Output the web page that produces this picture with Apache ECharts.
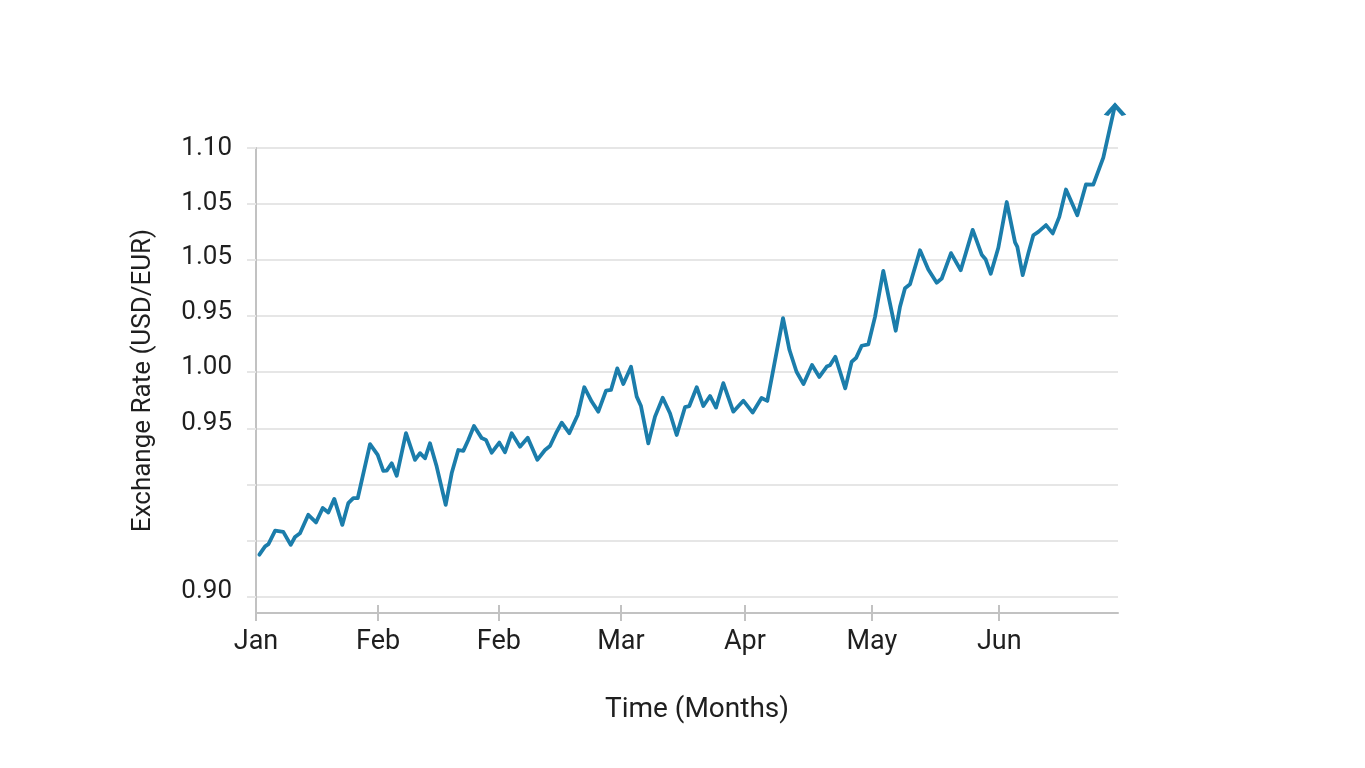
<!DOCTYPE html>
<html>
<head>
<meta charset="utf-8">
<title>Exchange Rate (USD/EUR)</title>
<script src="https://cdn.jsdelivr.net/npm/echarts@6/dist/echarts.min.js"></script>
<style>
  html, body { margin: 0; padding: 0; background: #ffffff; }
  #chart { width: 1365px; height: 768px; }
</style>
</head>
<body>
<div id="chart"></div>
<script>
// Day offsets (0 = start of Jan) and the rate read at each turn of the line
const days = [
  0.7, 1.9, 2.6, 4.0, 5.7, 7.25, 8.14, 9.19, 10.92, 12.53,
  13.93, 15.10, 16.35, 18.02, 19.27, 20.32, 21.24, 23.81, 25.41, 26.58,
  27.29, 28.34, 29.38, 31.32, 33.20, 34.25, 35.29, 36.33, 37.73, 39.61,
  40.87, 42.24, 43.29, 44.33, 45.52, 47.13, 48.03, 49.22, 50.81, 52.00,
  53.39, 55.13, 56.74, 58.74, 60.35, 61.39, 62.65, 63.84, 65.42, 67.18,
  68.55, 70.10, 71.48, 73.09, 74.13, 75.45, 76.70, 78.31, 79.50, 80.39,
  81.92, 83.32, 84.93, 86.45, 87.85, 89.58, 90.48, 92.03, 93.41, 94.81,
  96.06, 97.58, 99.67, 101.76, 103.72, 105.56, 106.77, 107.96, 110.05, 111.40,
  112.87, 114.33, 116.11, 117.63, 119.18, 119.86, 120.98, 123.04, 124.39, 125.29,
  126.48, 127.86, 129.26, 130.99, 132.24, 133.58, 134.48, 135.52, 136.57, 138.66,
  140.39, 142.14, 143.19, 145.13, 147.16, 149.66, 151.54, 152.34, 153.43, 155.01,
  156.77, 158.50, 158.98, 160.10, 161.27, 162.32, 163.36, 164.97, 166.37, 167.74,
  169.14, 171.50, 173.32, 174.84, 176.93, 179.37
];
const rates = [
  0.9186, 0.9223, 0.9233, 0.9293, 0.9288, 0.9230, 0.9265, 0.9282, 0.9364, 0.9330,
  0.9394, 0.9374, 0.9435, 0.9319, 0.9416, 0.9438, 0.9438, 0.9679, 0.9631, 0.9560,
  0.9561, 0.9594, 0.9538, 0.9728, 0.9609, 0.9639, 0.9616, 0.9683, 0.9579, 0.9408,
  0.9550, 0.9653, 0.9649, 0.9698, 0.9760, 0.9706, 0.9698, 0.9641, 0.9686, 0.9643,
  0.9728, 0.9668, 0.9708, 0.9609, 0.9653, 0.9671, 0.9728, 0.9775, 0.9728, 0.9809,
  0.9933, 0.9869, 0.9824, 0.9918, 0.9921, 1.0017, 0.9947, 1.0024, 0.9891, 0.9849,
  0.9683, 0.9802, 0.9886, 0.9817, 0.9720, 0.9844, 0.9849, 0.9933, 0.9849, 0.9894,
  0.9842, 0.9951, 0.9824, 0.9873, 0.9820, 0.9885, 0.9872, 1.0005, 1.0241, 1.0099,
  1.0002, 0.9947, 1.0032, 0.9979, 1.0025, 1.0031, 1.0069, 0.9928, 1.0047, 1.0063,
  1.0118, 1.0124, 1.0247, 1.0452, 1.0322, 1.0185, 1.0292, 1.0374, 1.0392, 1.0544,
  1.0458, 1.0399, 1.0418, 1.0531, 1.0455, 1.0635, 1.0524, 1.0504, 1.0439, 1.0555,
  1.0759, 1.0579, 1.0559, 1.0433, 1.0530, 1.0611, 1.0626, 1.0656, 1.0619, 1.0693,
  1.0815, 1.0700, 1.0838, 1.0837, 1.0957, 1.1190
];

const monthTicks = [0, 25.5, 50.7, 76.2, 102.1, 128.6, 155.2];
const monthLabels = ['Jan', 'Feb', 'Feb', 'Mar', 'Apr', 'May', 'Jun'];

const rateTicks = [0.90, 0.925, 0.95, 0.975, 1.00, 1.025, 1.05, 1.075, 1.10];
const rateLabels = ['0.90', '', '', '0.95', '1.00', '0.95', '1.05', '1.05', '1.10'];

const lineColor = '#1b7dab';
const textColor = '#1f1f1f';
const font = 'Roboto, "Liberation Sans", sans-serif';

// The lower y labels sit a few pixels above their grid lines
const labelLift = [5, 0, 0, 5, 5, 4, 3, 1, 0];
const rich = {};
labelLift.forEach((lift, i) => {
  rich['l' + i] = { fontSize: 26, color: textColor, fontFamily: font, padding: [0, 0, lift * 2, 0] };
});

const chart = echarts.init(document.getElementById('chart'));

// The last point carries the arrow head
const points = days.map((d, i) => [d, rates[i]]);
const seriesData = points.map((p, i) => {
  if (i < points.length - 1) {
    return p;
  }
  return {
    value: p,
    symbol: 'path://M0,10 L10,0 L20,10',
    symbolSize: [18, 10],
    symbolOffset: [0, 5],
    itemStyle: { color: 'rgba(0,0,0,0)', borderColor: lineColor, borderWidth: 3.8 }
  };
});

const option = {
  animation: false,
  backgroundColor: '#ffffff',
  grid: { left: 256, right: 247, top: 148, bottom: 155 },
  xAxis: [
    {
      type: 'value',
      min: 0,
      max: 180,
      name: 'Time (Months)',
      nameLocation: 'middle',
      nameGap: 83,
      nameTextStyle: { fontSize: 28, color: textColor, fontFamily: font, padding: [0, 0, 0, 20] },
      axisLine: { show: true, lineStyle: { color: '#c2c2c2', width: 2 } },
      axisTick: { show: true, length: 8, customValues: monthTicks, lineStyle: { color: '#c2c2c2', width: 2 } },
      axisLabel: {
        customValues: monthTicks,
        formatter: (v) => monthLabels[monthTicks.indexOf(v)],
        fontSize: 27,
        color: textColor,
        fontFamily: font,
        margin: 16
      },
      splitLine: { show: false }
    },
    {
      // second copy only to draw the inner half of the tick marks
      type: 'value',
      min: 0,
      max: 180,
      position: 'bottom',
      axisLine: { show: false },
      axisTick: { show: true, inside: true, length: 8, customValues: monthTicks, lineStyle: { color: '#c2c2c2', width: 2 } },
      axisLabel: { show: false },
      splitLine: { show: false }
    }
  ],
  yAxis: {
    type: 'value',
    min: 0.8926,
    max: 1.10,
    name: 'Exchange Rate (USD/EUR)',
    nameLocation: 'middle',
    nameRotate: 90,
    nameGap: 100,
    nameTextStyle: { fontSize: 26, color: textColor, fontFamily: font },
    axisLine: { show: true, lineStyle: { color: '#c2c2c2', width: 2 } },
    axisTick: { show: true, length: 9, customValues: rateTicks, lineStyle: { color: '#e6e6e6', width: 2 } },
    axisLabel: {
      customValues: rateTicks,
      formatter: (v) => {
        const i = Math.round((v - 0.9) / 0.025);
        return rateLabels[i] ? '{l' + i + '|' + rateLabels[i] + '}' : '';
      },
      rich: rich,
      fontSize: 26,
      color: textColor,
      fontFamily: font,
      margin: 24
    },
    splitLine: { show: true, lineStyle: { color: '#e6e6e6', width: 2 } }
  },
  series: [
    {
      type: 'line',
      xAxisIndex: 0,
      data: seriesData,
      symbol: 'none',
      showSymbol: true,
      clip: false,
      lineStyle: { color: lineColor, width: 3.8, join: 'round', cap: 'round' },
      itemStyle: { color: lineColor }
    }
  ]
};

chart.setOption(option);
</script>
</body>
</html>
